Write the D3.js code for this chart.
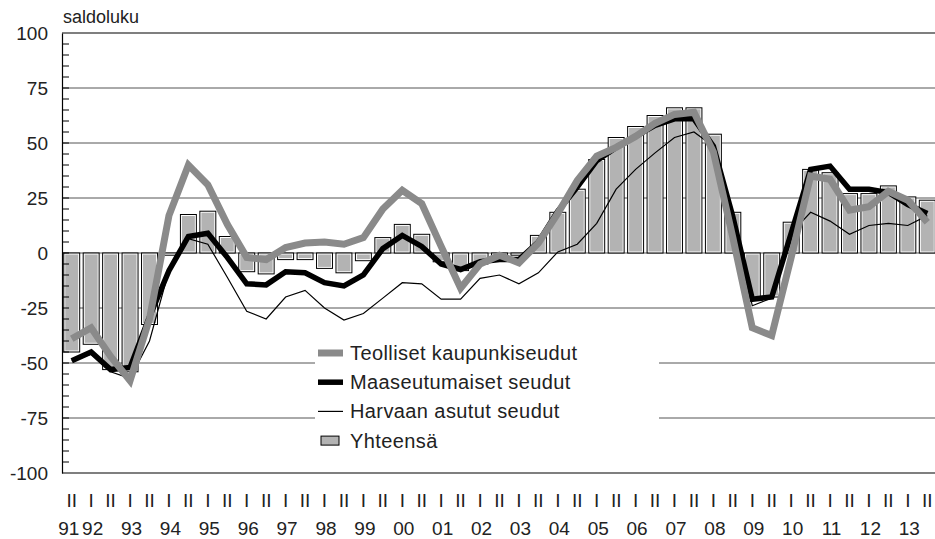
<!DOCTYPE html>
<html>
<head>
<meta charset="utf-8">
<script src="https://cdn.jsdelivr.net/npm/d3@7/dist/d3.min.js"></script>
<style>
  body { margin: 0; background: #fff; }
  text { font-family: "Liberation Sans", Arial, sans-serif; fill: #222; }
</style>
</head>
<body>
<script>
// Half-year periods, 1991 II .. 2013 II
const periods = ['91 II', '92 I', '92 II', '93 I', '93 II', '94 I', '94 II', '95 I', '95 II',
  '96 I', '96 II', '97 I', '97 II', '98 I', '98 II', '99 I', '99 II', '00 I', '00 II',
  '01 I', '01 II', '02 I', '02 II', '03 I', '03 II', '04 I', '04 II', '05 I', '05 II',
  '06 I', '06 II', '07 I', '07 II', '08 I', '08 II', '09 I', '09 II', '10 I', '10 II',
  '11 I', '11 II', '12 I', '12 II', '13 I', '13 II'];

// year label -> period where it is printed
const yearTicks = ['91 II', '92 I', '93 I', '94 I', '95 I', '96 I', '97 I', '98 I', '99 I',
  '00 I', '01 I', '02 I', '03 I', '04 I', '05 I', '06 I', '07 I', '08 I', '09 I',
  '10 I', '11 I', '12 I', '13 I'];

const yTicks = [100, 75, 50, 25, 0, -25, -50, -75, -100];

// Yhteensä (bars)
const yhteensa = [-45, -41.5, -53, -54, -32.5, -1, 17.5, 19, 7.5, -8.5, -9.5, -3, -3, -7, -9,
  -3.5, 7, 13, 8.5, -4, -8, -5, -3, -1, 8, 18.5, 29, 42.5, 52.5, 57.5, 62.5, 66, 66, 54,
  18.5, -20.5, -20, 14, 38, 36.5, 27, 27, 30.5, 25.5, 24];

// Teolliset kaupunkiseudut
const teolliset = [-39, -34, -47, -58, -30, 17, 40, 31, 13, -2, -3, 2.5, 4.5, 5, 4, 7, 20,
  28.5, 22.5, 3, -16, -5, -1, -4.5, 4.5, 18, 33, 44, 48, 53, 59, 63, 64, 46, 7, -34,
  -37.5, -2, 35, 33.5, 19.5, 21, 28, 24, 14];

// Maaseutumaiset seudut
const maaseutu = [-49, -45, -53, -52, -29, -8, 7.5, 9, -2, -14, -14.5, -8.5, -9, -13.5, -15,
  -10, 2, 8, 3, -5, -7.5, -4, -3, -3, 5, 19, 30, 42, 48, 53, 58, 61, 61, 48.5, 16.5, -21,
  -20, 9, 38, 39.5, 29, 29, 27.5, 22, 18];

// Harvaan asutut seudut
const harvaan = [-49, -46, -54, -57, -40, -8, 6.5, 4, -11, -26.5, -30, -20, -17, -25, -30.5,
  -27.5, -20.5, -13.5, -14, -21, -21, -11.5, -10, -14, -9, 0.5, 4, 13.5, 29, 38, 45.5,
  52.5, 55, 48.5, 17, -24, -20.5, 9, 18.5, 14.5, 8.5, 12.5, 13.5, 12.5, 17];

const W = 935, H = 539;
const LEFT = 62, RIGHT = 937, TOP = 33, BOTTOM = 473;
const GREY_LINE = '#8a8a8a';

const svg = d3.select('body').append('svg')
  .attr('width', W)
  .attr('height', H);

const x = d3.scaleBand().domain(periods).range([LEFT, RIGHT])
  .paddingInner(0.18).paddingOuter(0.09);
const y = d3.scaleLinear().domain([-100, 100]).range([BOTTOM, TOP]);
const cx = p => x(p) + x.bandwidth() / 2;

// gridlines
svg.append('g').selectAll('line')
  .data(yTicks.filter(d => d !== 100 && d !== -100))
  .enter().append('line')
    .attr('x1', LEFT).attr('x2', W)
    .attr('y1', d => y(d)).attr('y2', d => y(d))
    .attr('stroke', '#555')
    .attr('stroke-width', 1);

// bars
const bars = svg.append('g');
bars.selectAll('rect.outer')
  .data(periods)
  .enter().append('rect')
    .attr('class', 'outer')
    .attr('x', d => x(d))
    .attr('y', (d, i) => y(Math.max(0, yhteensa[i])))
    .attr('width', x.bandwidth())
    .attr('height', (d, i) => Math.abs(y(yhteensa[i]) - y(0)))
    .attr('fill', '#ffffff')
    .attr('stroke', '#000')
    .attr('stroke-width', 1);
bars.selectAll('rect.inner')
  .data(periods)
  .enter().append('rect')
    .attr('class', 'inner')
    .attr('x', d => x(d) + 1.5)
    .attr('y', (d, i) => y(Math.max(0, yhteensa[i])) + 1.5)
    .attr('width', x.bandwidth() - 3)
    .attr('height', (d, i) => Math.max(0, Math.abs(y(yhteensa[i]) - y(0)) - 3))
    .attr('fill', '#b3b3b3');

// lines
const line = data => d3.line()
  .x((d, i) => cx(periods[i]))
  .y(d => y(d))(data);

svg.append('path').attr('d', line(harvaan))
  .attr('fill', 'none').attr('stroke', '#000').attr('stroke-width', 1.2);
svg.append('path').attr('d', line(maaseutu))
  .attr('fill', 'none').attr('stroke', '#000').attr('stroke-width', 5.5)
  .attr('stroke-linejoin', 'miter');
svg.append('path').attr('d', line(teolliset))
  .attr('fill', 'none').attr('stroke', GREY_LINE).attr('stroke-width', 7)
  .attr('stroke-linejoin', 'miter');

// frame: top line, bottom axis, y axis
svg.append('line').attr('x1', LEFT).attr('x2', W).attr('y1', y(100)).attr('y2', y(100))
  .attr('stroke', '#000').attr('stroke-width', 1.2);
svg.append('line').attr('x1', LEFT).attr('x2', W).attr('y1', y(-100)).attr('y2', y(-100))
  .attr('stroke', '#000').attr('stroke-width', 1.2);

const yAxis = d3.axisLeft(y).tickValues(yTicks).tickSize(0).tickPadding(14)
  .tickFormat(d => d);
const gy = svg.append('g').attr('transform', `translate(${LEFT},0)`).call(yAxis);
gy.select('.domain').attr('stroke', '#000').attr('stroke-width', 1.2);
gy.selectAll('text')
  .style('font-family', '"Liberation Sans", Arial, sans-serif')
  .style('font-size', '19px')
  .attr('fill', '#222');

// minor ticks every 5 units, inside the plot
svg.append('g').selectAll('line')
  .data(d3.range(-95, 100, 5))
  .enter().append('line')
    .attr('x1', LEFT).attr('x2', LEFT + 7)
    .attr('y1', d => y(d)).attr('y2', d => y(d))
    .attr('stroke', '#000').attr('stroke-width', 1);

svg.append('text')
  .attr('x', 63).attr('y', 23)
  .style('font-size', '18px')
  .text('saldoluku');

// x labels: half-year row and year row
svg.append('g').selectAll('text')
  .data(periods)
  .enter().append('text')
    .attr('x', d => cx(d))
    .attr('y', 507)
    .attr('text-anchor', 'middle')
    .style('font-size', '19px')
    .text(d => d.split(' ')[1]);

svg.append('g').selectAll('text')
  .data(yearTicks)
  .enter().append('text')
    .attr('x', (d, i) => cx(d) + (i === 0 ? -3 : 1.5))
    .attr('y', 535)
    .attr('text-anchor', 'middle')
    .style('font-size', '19px')
    .text(d => d.split(' ')[0]);

// legend
const legendItems = [
  { name: 'Teolliset kaupunkiseudut', type: 'line', color: GREY_LINE, width: 7 },
  { name: 'Maaseutumaiset seudut', type: 'line', color: '#000', width: 5.5 },
  { name: 'Harvaan asutut seudut', type: 'line', color: '#000', width: 1.2 },
  { name: 'Yhteensä', type: 'bar' }
];
const legend = svg.append('g').attr('transform', 'translate(315,336)');
legend.append('rect')
  .attr('x', 0).attr('y', 0).attr('width', 344).attr('height', 123)
  .attr('fill', '#fff');
const li = legend.selectAll('g.item')
  .data(legendItems)
  .enter().append('g')
    .attr('class', 'item')
    .attr('transform', (d, i) => `translate(0,${17 + i * 29.2})`);
li.filter(d => d.type === 'line').append('line')
  .attr('x1', 3).attr('x2', 28).attr('y1', 0).attr('y2', 0)
  .attr('stroke', d => d.color).attr('stroke-width', d => d.width);
li.filter(d => d.type === 'bar').append('rect')
  .attr('x', 6).attr('y', -4.5).attr('width', 18).attr('height', 9)
  .attr('fill', '#b3b3b3').attr('stroke', '#000').attr('stroke-width', 1);
li.append('text')
  .attr('x', 35).attr('y', 7)
  .style('font-size', '20px')
  .style('letter-spacing', '0.4px')
  .text(d => d.name);
</script>
</body>
</html>
